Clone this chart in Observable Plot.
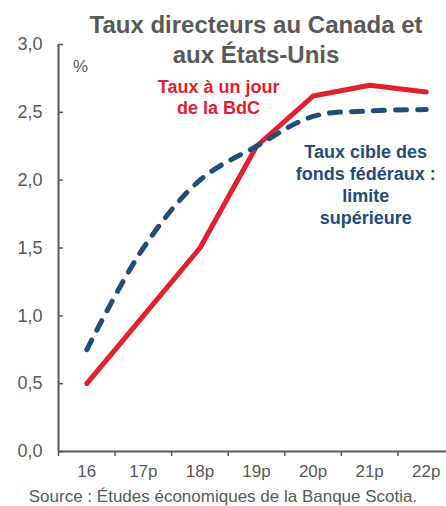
<!DOCTYPE html>
<html><head><meta charset="utf-8">
<script src="https://cdn.jsdelivr.net/npm/d3@7"></script>
<script src="https://cdn.jsdelivr.net/npm/@observablehq/plot@0.6"></script>
<style>
body{margin:0;background:#fff;}
#wrap{position:relative;width:446px;height:506px;font-family:"Liberation Sans",Arial,sans-serif;overflow:hidden}
#chart{position:absolute;left:0;top:0}
#title{position:absolute;left:58px;width:396px;top:10px;text-align:center;font-weight:bold;font-size:24px;line-height:30px;color:#595959}
#source{position:absolute;left:0;width:446px;top:487px;text-align:center;font-size:17px;line-height:20px;color:#595959;white-space:nowrap}
</style></head>
<body>
<div id="wrap">
  <div id="chart"></div>
  <div id="title">Taux directeurs au Canada et<br>aux États-Unis</div>
  <div id="source">Source : Études économiques de la Banque Scotia.</div>
</div>
<script>
const categories = ["16", "17p", "18p", "19p", "20p", "21p", "22p"];
const bdcRate = [0.5, 1.0, 1.5, 2.25, 2.62, 2.7, 2.65];
const fedRate = [0.75, 1.5, 2.0, 2.25, 2.47, 2.51, 2.52];
const yTicks = [0, 0.5, 1, 1.5, 2, 2.5, 3];
const bdcLabel = "Taux à un jour\nde la BdC";
const fedLabel = "Taux cible des\nfonds fédéraux :\nlimite\nsupérieure";
const unitLabel = "%";

const red = "#e3202e";
const blue = "#1f4e79";
const gray = "#595959";

const bdc = categories.map((c, i) => ({i, v: bdcRate[i]}));
const fed = categories.map((c, i) => ({i, v: fedRate[i]}));
const bounds = d3.range(categories.length + 1).map(k => k - 0.5);

const plot = Plot.plot({
  width: 446, height: 480,
  marginLeft: 58, marginRight: 0, marginTop: 44, marginBottom: 29,
  style: {fontFamily: '"Liberation Sans", Arial, sans-serif', color: gray, background: "transparent", overflow: "visible"},
  x: {domain: [-0.5, categories.length - 0.5], range: [58, 454], axis: null, label: null},
  y: {domain: [0, 3], axis: null, label: null},
  marks: [
    Plot.axisY({ticks: yTicks, tickSize: -5, tickPadding: 21, strokeWidth: 1.5, label: null,
      tickFormat: d => d.toFixed(1).replace(".", ","), fontSize: 18}),
    Plot.axisX({ticks: bounds, tickSize: 5, strokeWidth: 1.5, label: null, tickFormat: () => ""}),
    Plot.axisX({ticks: d3.range(categories.length), tickSize: 0, tickPadding: 13, label: null,
      tickFormat: i => categories[i], fontSize: 17}),
    Plot.ruleX([-0.5], {y1: 0, y2: 3, stroke: gray, strokeWidth: 2}),
    Plot.ruleY([0], {stroke: gray, strokeWidth: 2}),
    Plot.line(bdc, {x: "i", y: "v", stroke: red, strokeWidth: 5, strokeLinecap: "round", strokeLinejoin: "round"}),
    Plot.line(fed, {x: "i", y: "v", stroke: blue, strokeWidth: 5, strokeDasharray: "11,11",
      strokeLinecap: "round", curve: "catmull-rom"}),
    Plot.text([bdcLabel], {x: 2.33, y: 2.613, fill: red, fontSize: 18, fontWeight: "bold", lineHeight: 1.17}),
    Plot.text([fedLabel], {x: 4.93, y: 1.972, fill: blue, fontSize: 18, fontWeight: "bold", lineHeight: 1.22}),
    Plot.text([unitLabel], {x: -0.11, y: 2.838, fill: gray, fontSize: 17})
  ]
});
document.getElementById("chart").appendChild(plot);
</script>
</body></html>
